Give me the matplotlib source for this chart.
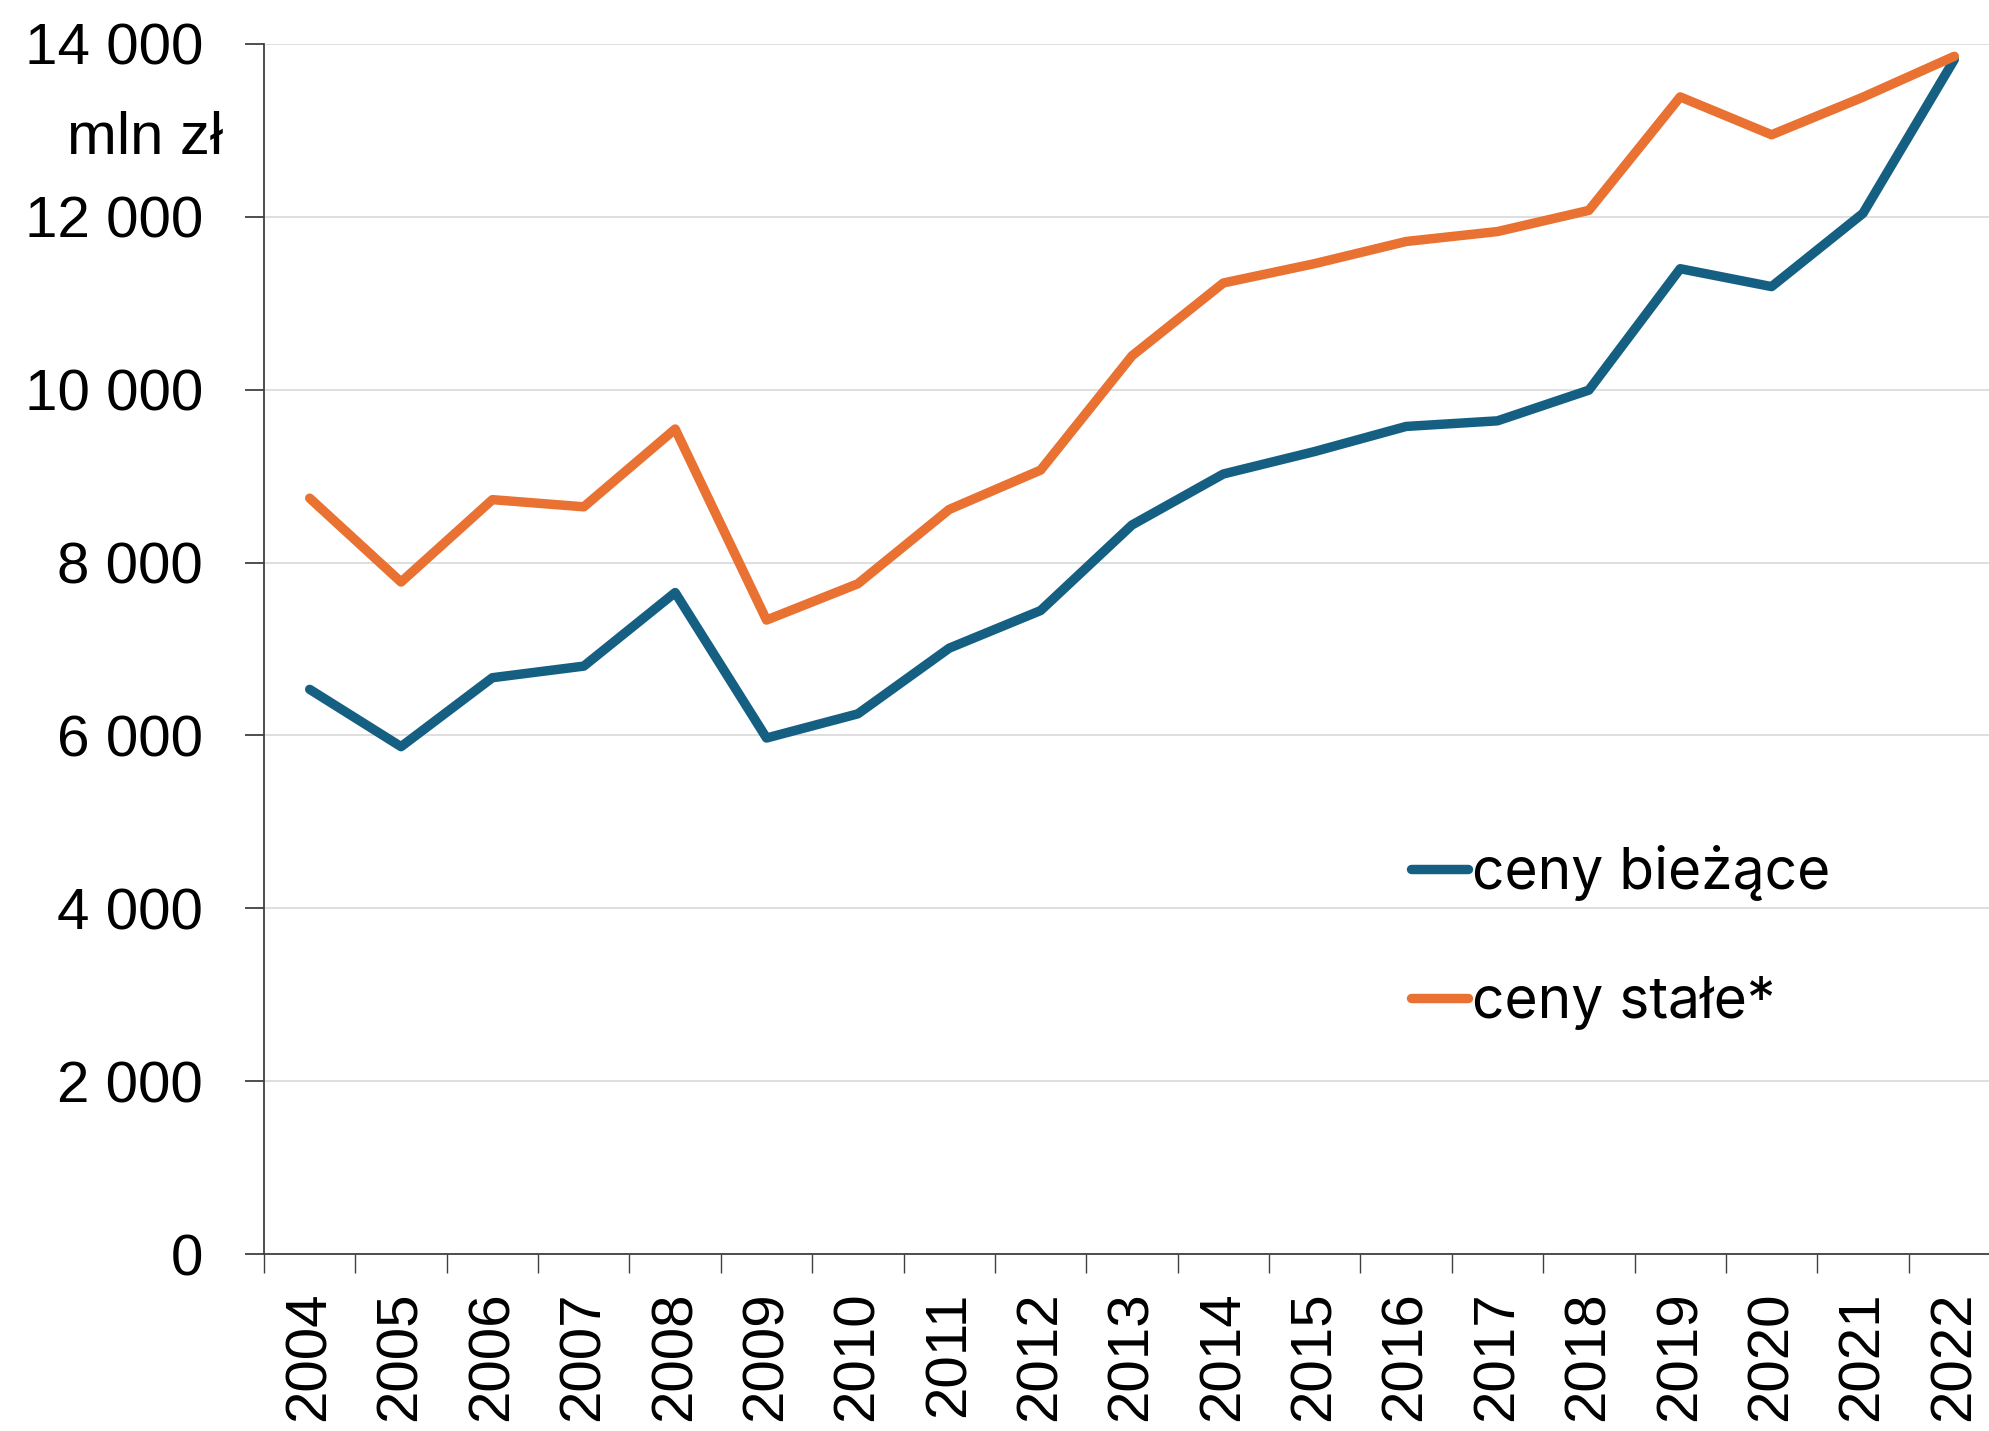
import matplotlib
matplotlib.use("Agg")
import matplotlib.pyplot as plt
import numpy as np

years = ["2004", "2005", "2006", "2007", "2008", "2009", "2010", "2011", "2012", "2013",
         "2014", "2015", "2016", "2017", "2018", "2019", "2020", "2021", "2022"]
ceny_biezace = [6533, 5870, 6668, 6802, 7653, 5970, 6250, 7010, 7445, 8435,
                9025, 9285, 9575, 9640, 9995, 11400, 11193, 12040, 13820]
ceny_stale = [8745, 7775, 8728, 8645, 9545, 7335, 7755, 8615, 9070, 10392,
              11235, 11459, 11715, 11830, 12075, 13388, 12950, 13385, 13858]
series_labels = ["ceny bieżące", "ceny stałe*"]
yticks = [0, 2000, 4000, 6000, 8000, 10000, 12000, 14000]
ytick_labels = ["0", "2 000", "4 000", "6 000", "8 000", "10 000", "12 000", "14 000"]
unit_label = "mln zł"

W, H = 1990, 1431
fig = plt.figure(figsize=(W / 100, H / 100), dpi=100)
ax = fig.add_axes([264 / W, 1 - 1254 / H, 1736 / W, 1210 / H])

tick_font = "Liberation Sans"
blue = "#156082"
orange = "#E97132"

x = np.arange(len(years))
l1, = ax.plot(x, ceny_biezace, color=blue, lw=6.8, solid_capstyle="round",
              solid_joinstyle="round", zorder=3)
l2, = ax.plot(x, ceny_stale, color=orange, lw=6.8, solid_capstyle="round",
              solid_joinstyle="round", zorder=4)

ax.set_xlim(-0.5, len(years) - 0.5)
ax.set_ylim(0, 14000)

ax.set_yticks(yticks)
ax.set_yticklabels(ytick_labels, family=tick_font, fontsize=42)
ax.tick_params(axis="y", length=14, width=1.3, color="#404040", pad=30, direction="out")

ax.set_xticks(x)
ax.set_xticklabels(years, rotation=90, family=tick_font, fontsize=42)
ax.set_xticks(np.arange(-0.5, len(years), 1.0), minor=True)
ax.tick_params(axis="x", which="major", length=0, pad=27)
ax.tick_params(axis="x", which="minor", length=14, width=1.0, color="#404040")

ax.grid(axis="y", color="#D9D9D9", lw=1.2)
ax.set_axisbelow(True)
for s in ["top", "right"]:
    ax.spines[s].set_visible(False)
for s in ["left", "bottom"]:
    ax.spines[s].set_color("#404040")
    ax.spines[s].set_linewidth(1.3)

fig.text(223 / W, 1 - 154 / H, unit_label, ha="right", va="baseline",
         family=tick_font, fontsize=43)

leg = ax.legend([l1, l2], series_labels, loc="upper left",
                bbox_to_anchor=((1411 - 264) / 1736, (1254 - 845) / 1210),
                frameon=False, prop={"family": "Inter", "size": 41},
                handlelength=1.0, handletextpad=0.08, labelspacing=1.31,
                borderpad=0, borderaxespad=0)

fig.savefig("out.png", dpi=100)
